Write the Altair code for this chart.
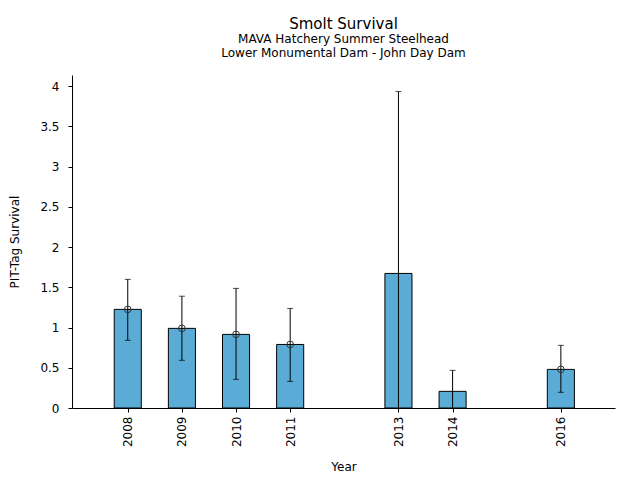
import altair as alt
import pandas as pd

years = [2008, 2009, 2010, 2011, 2013, 2014, 2016]
survival = [1.226, 0.99, 0.915, 0.79, 1.673, 0.207, 0.48]
upper = [1.599, 1.39, 1.487, 1.238, 3.934, 0.468, 0.779]
lower = [0.841, 0.593, 0.356, 0.331, -0.588, -0.054, 0.195]
has_marker = [True, True, True, True, False, False, True]
y_ticks = [0, 0.5, 1, 1.5, 2, 2.5, 3, 3.5, 4]

df = pd.DataFrame({
    "Year": years,
    "Survival": survival,
    "Upper": upper,
    "Lower": lower,
    "Marker": has_marker,
})

FONT = "DejaVu Sans"

xscale = alt.Scale(domain=[2006.97, 2017.0], nice=False, zero=False, padding=0)
yscale = alt.Scale(domain=[0, 4.14], nice=False, padding=0)

xaxis = alt.Axis(values=years, format="d", labelAngle=270, title="Year",
                 tickSize=4, labelPadding=4, titleY=62, titleBaseline="alphabetic")
yaxis = alt.Axis(values=y_ticks, format="~g", title="PIT-Tag Survival",
                 tickSize=4, labelPadding=9, titleX=-58, titleY=166.5,
                 titleAngle=270, titleBaseline="middle", titleAlign="center")

base = alt.Chart(df)

bars = base.transform_calculate(
    x0="datum.Year - 0.25", x1="datum.Year + 0.25"
).mark_bar(color="#5aacd6", stroke="black", strokeWidth=1).encode(
    x=alt.X("x0:Q", scale=xscale, axis=xaxis),
    x2="x1:Q",
    y=alt.Y("Survival:Q", scale=yscale, axis=yaxis),
    y2=alt.datum(0),
)

rules = base.mark_rule(color="black", strokeWidth=1, clip=True).encode(
    x=alt.X("Year:Q", scale=xscale),
    y=alt.Y("Lower:Q", scale=yscale),
    y2="Upper:Q",
)

caps_hi = base.mark_tick(color="black", orient="horizontal", size=6, thickness=1, clip=True).encode(
    x=alt.X("Year:Q", scale=xscale),
    y=alt.Y("Upper:Q", scale=yscale),
)
caps_lo = base.mark_tick(color="black", orient="horizontal", size=6, thickness=1, clip=True).encode(
    x=alt.X("Year:Q", scale=xscale),
    y=alt.Y("Lower:Q", scale=yscale),
)

points = base.transform_filter("datum.Marker").mark_point(
    shape="circle", filled=False, color="#333333", size=45, strokeWidth=1, opacity=1
).encode(
    x=alt.X("Year:Q", scale=xscale),
    y=alt.Y("Survival:Q", scale=yscale),
)

chart = alt.layer(bars, rules, caps_hi, caps_lo, points).properties(
    width=543,
    height=333,
    autosize=alt.AutoSizeParams(type="none"),
    padding={"left": 64, "top": 67, "right": 17, "bottom": 64},
    title=alt.TitleParams(
        text="Smolt Survival",
        subtitle=["MAVA Hatchery Summer Steelhead", "Lower Monumental Dam - John Day Dam"],
        font=FONT, fontSize=15, fontWeight="normal", color="black",
        subtitleFont=FONT, subtitleFontSize=12, subtitleColor="black",
        subtitleLineHeight=14.5, subtitlePadding=2,
        anchor="middle", frame="group", offset=16,
    ),
).configure_view(stroke=None).configure_axis(
    grid=False, domainColor="black", tickColor="black", labelColor="black",
    titleColor="black", labelFont=FONT, titleFont=FONT, labelFontSize=12,
    titleFontSize=12, titleFontWeight="normal", domainWidth=1, tickWidth=1,
)

chart.save("out.html", embed_options={"renderer": "svg", "actions": False})
